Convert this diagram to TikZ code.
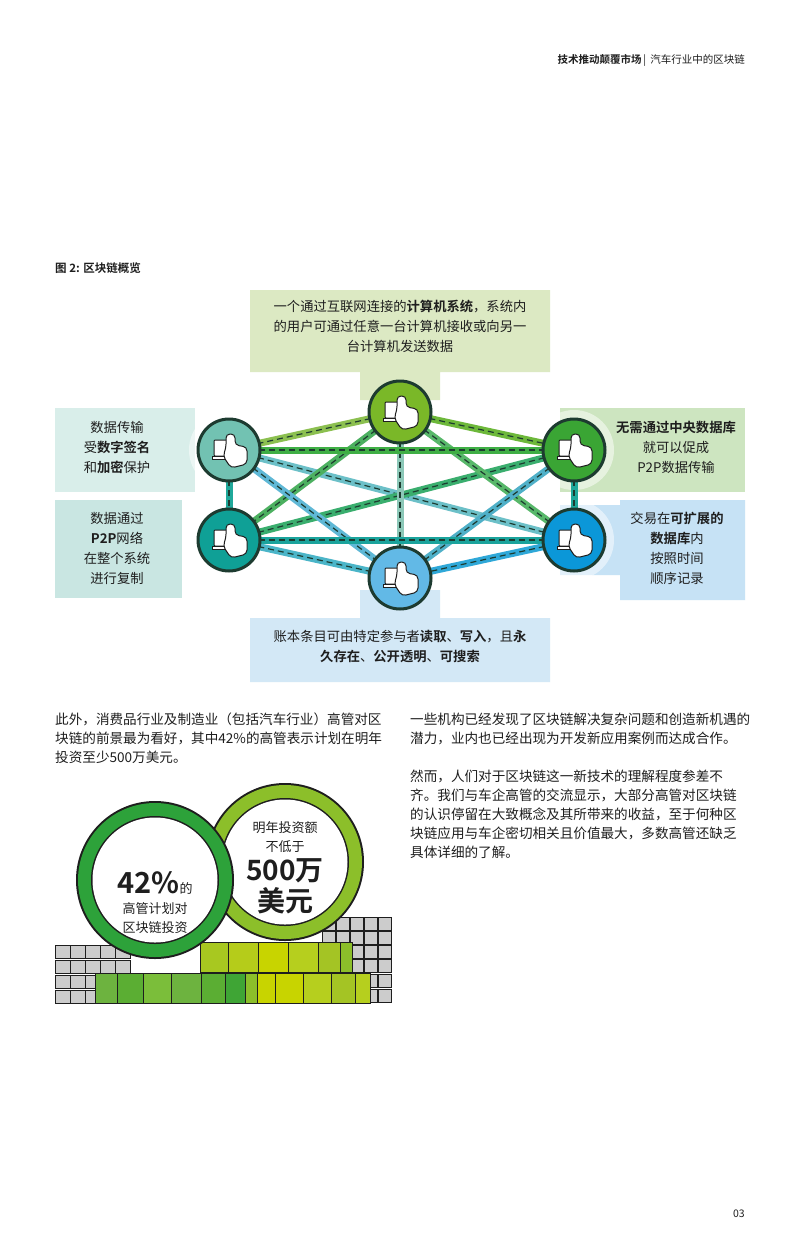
\documentclass[tikz,border=0pt]{standalone}
\usepackage{fontspec}
\setmainfont{Noto Sans CJK SC}[BoldFont={Noto Sans CJK SC Bold}]
\usetikzlibrary{calc}
\definecolor{ink}{HTML}{1E1E1E}
\definecolor{dk}{HTML}{1D3B30}
\tikzset{icon/.pic={
    \draw[ink,line width=1pt,fill=white,rounded corners=1pt] (-15,-10) rectangle (4,6);
    \draw[ink,line width=1pt,fill=white] (-17,6) rectangle (6,9);
    \draw[ink,line width=1pt,fill=white,rounded corners=4pt] (-3,-16) -- (6,-16) -- (6,-5) -- (18,-3) -- (18,14) -- (2,18) -- (-6,6) -- (-3,-2) -- cycle;
  }}
\begin{document}
\begin{tikzpicture}[x=1pt,y=-1pt,
  F/.code={\definecolor{tmpF}{HTML}{#1}\tikzset{fill=tmpF}},
  txt/.style={font=\fontsize{13.3}{20}\selectfont,color=ink,align=center,inner sep=0},
  body/.style={font=\fontsize{13.6}{19}\selectfont,color=ink,align=left,anchor=north west,inner sep=0},
  edge/.code={\definecolor{tmpE}{HTML}{#1}\tikzset{line width=7pt,draw=tmpE}},
  dsh/.style={draw=dk,line width=1.2pt,dash pattern=on 6pt off 4pt},
  pc/.code={\definecolor{tmpP}{HTML}{#1}\tikzset{circle,draw=dk,line width=3pt,minimum size=62pt,fill=tmpP}}]
\useasboundingbox (0,0) rectangle (800,1248);
\fill[white] (0,0) rectangle (800,1248);
% header
\node[anchor=east,font=\fontsize{10.5}{12}\selectfont,color=ink,inner sep=0] (hdr) at (745,60) {\textbf{技术推动颠覆市场}\,|\, 汽车行业中的区块链};
\node[anchor=west,font=\bfseries\fontsize{11.5}{13}\selectfont,color=ink,inner sep=0] (ttl) at (55,268) {图 2: 区块链概览};
% boxes
\fill[F=DCE9C3] (250,290) rectangle (550,372) (360,372) rectangle (440,400);
\fill[F=D9EEEA] (55,408) rectangle (195,492);
\fill[F=C9E6E2] (55,500) rectangle (182,598);
\fill[F=CDE5C0] (560,408) rectangle (745,492);
\fill[F=C6E2F5] (620,500) rectangle (745,600) (560,505) rectangle (620,575);
\fill[F=D3E8F6] (250,618) rectangle (550,682) (360,590) rectangle (440,618);
\node[txt] (tT) at (400,326) {一个通过互联网连接的\textbf{计算机系统}，系统内\\的用户可通过任意一台计算机接收或向另一\\台计算机发送数据};
\node[txt] (tLT) at (117,447) {数据传输\\受\textbf{数字签名}\\和\textbf{加密}保护};
\node[txt] (tLB) at (117,548) {数据通过\\\textbf{P2P}网络\\在整个系统\\进行复制};
\node[txt] (tRT) at (676,447) {\textbf{无需通过中央数据库}\\就可以促成\\P2P数据传输};
\node[txt] (tRB) at (677,548) {交易在\textbf{可扩展的}\\\textbf{数据库}内\\按照时间\\顺序记录};
\node[txt] (tB) at (400,647) {账本条目可由特定参与者\textbf{读取}、\textbf{写入}，且\textbf{永}\\\textbf{久存在}、\textbf{公开透明}、\textbf{可搜索}};
% node positions
\coordinate (T) at (400,412);
\coordinate (LT) at (229,450);
\coordinate (RT) at (574,450);
\coordinate (LB) at (229,540);
\coordinate (RB) at (574,540);
\coordinate (B) at (400,578);
\foreach \c in {LT,RT,LB,RB}{\fill[white,opacity=0.5] (\c) circle (40);}
% edges
\foreach \a/\b/\col in {LT/RB/6CC0C8,LB/RT/3AAE6E,T/LB/4CB060,T/RB/58B86A,LT/B/5FB8D6,RT/B/4FB0C8,T/B/8CC8B8,LT/LB/1FA89A,RT/RB/1FA89A,LB/RB/1BA39C,LT/RT/3FAE45,T/LT/8CC050,T/RT/6DB83A,LB/B/4BB5C8,RB/B/2FA8D8}{
  \draw[edge=\col] (\a) -- (\b);
  \draw[dsh] (\a) -- (\b);
}
% nodes
\node[pc=7AB828] (nT) at (T) {}; \pic at (T) {icon};
\node[pc=72C2B2] (nLT) at (LT) {}; \pic at (LT) {icon};
\node[pc=3AA534] (nRT) at (RT) {}; \pic at (RT) {icon};
\node[pc=0FA096] (nLB) at (LB) {}; \pic at (LB) {icon};
\node[pc=0B97D8] (nRB) at (RB) {}; \pic at (RB) {icon};
\node[pc=62B9E6] (nB) at (B) {}; \pic at (B) {icon};
% body text
\node[body] (p1) at (55,713) {此外，消费品行业及制造业（包括汽车行业）高管对区\\块链的前景最为看好，其中42\%的高管表示计划在明年\\投资至少500万美元。};
\node[body] (p2) at (410,713) {一些机构已经发现了区块链解决复杂问题和创造新机遇的\\潜力，业内也已经出现为开发新应用案例而达成合作。};
\node[body] (p3) at (410,770) {然而，人们对于区块链这一新技术的理解程度参差不\\齐。我们与车企高管的交流显示，大部分高管对区块链\\的认识停留在大致概念及其所带来的收益，至于何种区\\块链应用与车企密切相关且价值最大，多数高管还缺乏\\具体详细的了解。};
% coins
\tikzset{cell/.style={draw=ink,line width=0.8pt}}
\foreach \y in {945,960,975,990}{\foreach \x in {55,70,85,100,115}{\fill[F=CCCCCC] (\x,\y) rectangle +(15,13);\draw[cell] (\x,\y) rectangle +(15,13);}}
\foreach \y in {917,931,945,959,974,989}{\foreach \x in {322,336,350,364,378}{\fill[F=CCCCCC] (\x,\y) rectangle +(13,13);\draw[cell] (\x,\y) rectangle +(13,13);}}
\foreach \x/\w/\c in {200/28/A8C820,228/30/B5CC1A,258/30/C8D400,288/30/B6CF1E,318/22/A4C424,340/12/8CBF2A}{\fill[F=\c] (\x,942) rectangle +(\w,30);\draw[cell] (\x,942) rectangle +(\w,30);}
\foreach \x/\w/\c in {95/22/6DB33F,117/26/5BAE33,143/28/7BBE3A,171/30/6DB33F,201/24/5BAE33,225/20/3FA535,245/12/8CBF2A,257/18/C8D400,275/28/C8D400,303/28/B6CF1E,331/24/A4C424,355/15/B6CF1E}{\fill[F=\c] (\x,973) rectangle +(\w,30);\draw[cell] (\x,973) rectangle +(\w,30);}
% circles
\fill[ink] (285,862) circle (79);
\fill[F=8CBF2A] (285,862) circle (77);
\fill[ink] (285,862) circle (64);
\fill[white] (285,862) circle (62.5);
\fill[ink] (155,880) circle (79);
\fill[F=2DA23A] (155,880) circle (77);
\fill[ink] (155,880) circle (64);
\fill[white] (155,880) circle (62.5);
\node[txt,font=\fontsize{13}{19}\selectfont] (c1) at (155,918) {高管计划对\\区块链投资};
\node[txt,anchor=base] (c1b) at (155,893) {\fontsize{29}{30}\selectfont\textbf{42\%}\fontsize{13}{14}\selectfont 的};
\node[txt,font=\fontsize{13}{19}\selectfont] (c2) at (285,837) {明年投资额\\不低于};
\node[txt,font=\bfseries\fontsize{28}{31}\selectfont] (c2b) at (285,886) {500万\\美元};
\node[anchor=east,font=\fontsize{10.5}{12}\selectfont,color=ink,inner sep=0] (pg) at (745,1214) {03};
\end{tikzpicture}
\end{document}
